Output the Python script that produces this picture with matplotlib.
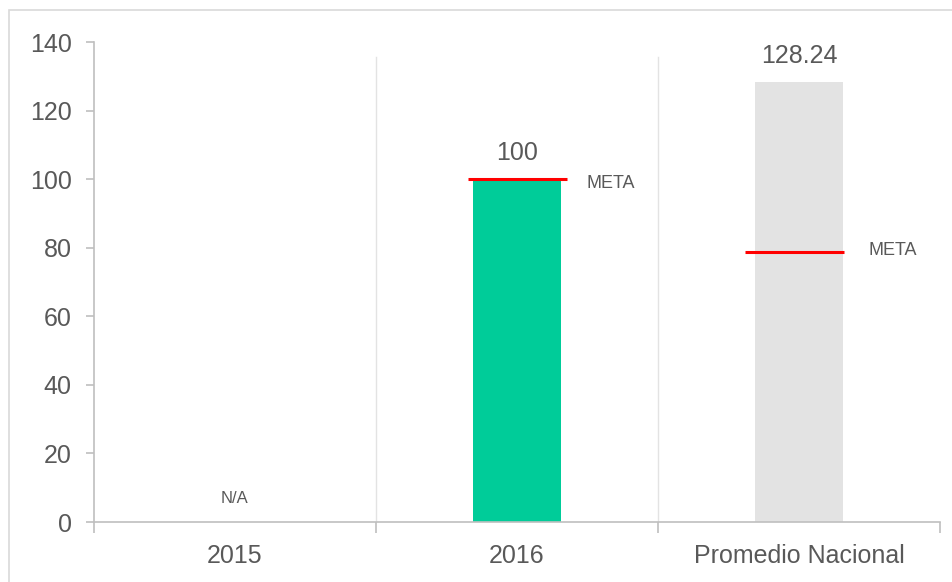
import matplotlib.pyplot as plt
from matplotlib.patches import Rectangle

plt.rcParams['font.family'] = ['Liberation Sans', 'DejaVu Sans']

categories = ['2015', '2016', 'Promedio Nacional']
values = [None, 100, 128.24]
value_labels = ['N/A', '100', '128.24']
bar_colors = ['#00CC99', '#00CC99', '#E3E3E3']
meta = [None, 100, 78.8]

TEXT = '#595959'
AXIS = '#BFBFBF'

fig = plt.figure(figsize=(9.53, 5.82), dpi=100)
ax = fig.add_axes([94 / 953, 1 - 522 / 582, 846 / 953, 480 / 582])

# light frame around the chart (cut at the right and bottom)
fig.patches.append(Rectangle((9 / 953, -0.1), 1.2, 1 - 10 / 582 + 0.1,
                             transform=fig.transFigure, fill=False,
                             edgecolor='#D9D9D9', linewidth=1.2))

xs = range(len(categories))
for x, v, c in zip(xs, values, bar_colors):
    if v is None:
        continue
    ax.bar(x, v, width=0.315, color=c, zorder=2)

# value labels
for x, v, lab in zip(xs, values, value_labels):
    if v is None:
        ax.text(x, 6.9, lab, ha='center', va='center', fontsize=12, color=TEXT)
    else:
        ax.text(x, v + 4.2, lab, ha='center', va='bottom',
                fontsize=18, color=TEXT)

# target (META) markers
offsets = [0, 0.003, -0.015]
label_dy = [0, -1.2, 0.5]
for x, m, off, dy in zip(xs, meta, offsets, label_dy):
    if m is None:
        continue
    ax.hlines(m, x + off - 0.175, x + off + 0.175, color='#FF0000',
              linewidth=2.2, zorder=3)
    ax.text(x + 0.248, m + dy, 'META', ha='left', va='center',
            fontsize=13, color=TEXT)

ax.set_xlim(-0.5, 2.5)
ax.set_ylim(0, 140)
ax.set_yticks(range(0, 141, 20))

# category boundaries as ticks, labels in the middle
ax.set_xticks([-0.5, 0.5, 1.5, 2.5])
ax.set_xticklabels([])
ax.set_xticks(list(xs), minor=True)
ax.set_xticklabels(categories, minor=True)
ax.tick_params(axis='x', which='major', length=8, color=AXIS, width=1.2)
ax.tick_params(axis='x', which='minor', length=0, pad=16, labelsize=18,
               labelcolor=TEXT)
ax.tick_params(axis='y', length=6, color=AXIS, width=1.2, pad=10,
               labelsize=18, labelcolor=TEXT)

for xb in [0.5, 1.5]:
    ax.axvline(xb, ymin=0, ymax=(522 - 57) / 480, color='#E3E3E3',
               linewidth=1, zorder=1)

for side in ['top', 'right']:
    ax.spines[side].set_visible(False)
ax.spines['left'].set_color(AXIS)
ax.spines['bottom'].set_color(AXIS)
ax.spines['left'].set_linewidth(1.2)
ax.spines['bottom'].set_linewidth(1.2)

fig.savefig('out.png', dpi=100)
